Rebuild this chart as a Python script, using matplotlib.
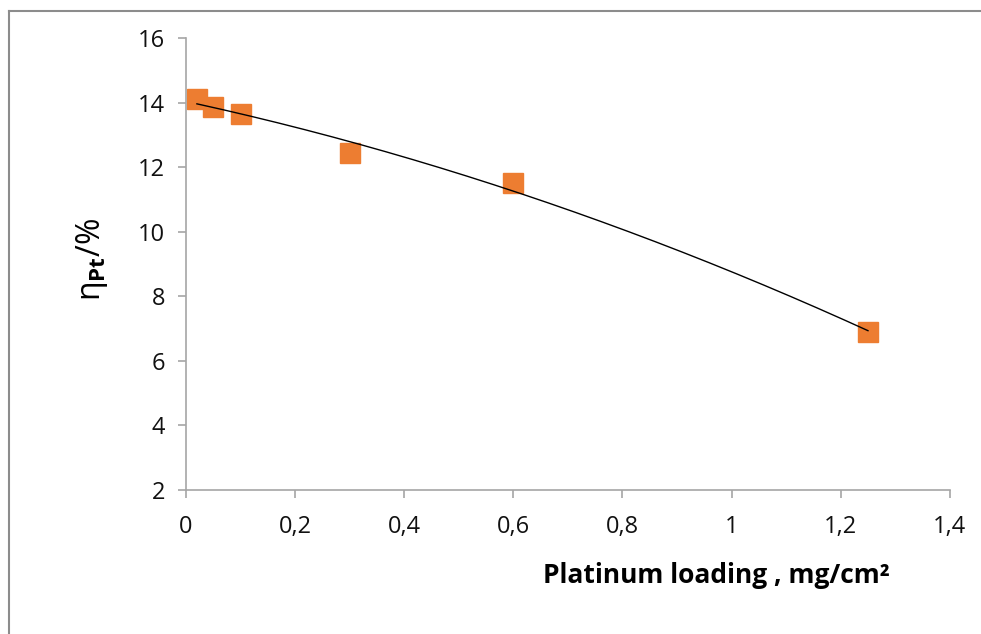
import numpy as np
import matplotlib.pyplot as plt
from matplotlib.lines import Line2D

plt.rcParams['font.family'] = ['Open Sans', 'DejaVu Sans']
plt.rcParams['mathtext.fontset'] = 'custom'
plt.rcParams['mathtext.rm'] = 'Open Sans'
plt.rcParams['mathtext.it'] = 'Open Sans'
plt.rcParams['mathtext.bf'] = 'Open Sans:bold'

# platinum loading (mg/cm2) vs efficiency (%)
loading = [0.02, 0.05, 0.1, 0.3, 0.6, 1.25]
eta = [14.1, 13.85, 13.65, 12.45, 11.5, 6.9]

xticks = [0, 0.2, 0.4, 0.6, 0.8, 1, 1.2, 1.4]
xticklabels = ["0", "0,2", "0,4", "0,6", "0,8", "1", "1,2", "1,4"]
yticks = [2, 4, 6, 8, 10, 12, 14, 16]

fig = plt.figure(figsize=(9.81, 6.34), dpi=100)
ax = fig.add_axes([0.1896, 0.2271, 0.7786, 0.7129])

# 2nd order polynomial trendline, like excel
coef = np.polyfit(loading, eta, 2)
xs = np.linspace(min(loading), max(loading), 200)
ax.plot(xs, np.polyval(coef, xs), color="black", lw=1, zorder=3)

ax.plot(loading, eta, "s", color="#ED7D31", markersize=14.5, zorder=2)

ax.set_xlim(0, 1.4)
ax.set_ylim(2, 16)
ax.set_xticks(xticks)
ax.set_xticklabels(xticklabels)
ax.set_yticks(yticks)

for s in ["top", "right"]:
    ax.spines[s].set_visible(False)
for s in ["left", "bottom"]:
    ax.spines[s].set_color("#a6a6a6")
    ax.spines[s].set_linewidth(1.2)
ax.tick_params(axis="both", direction="out", length=6, width=1.2, color="#a6a6a6",
               labelsize=17, labelcolor="#111111")
ax.tick_params(axis="y", pad=9)
ax.tick_params(axis="x", pad=12)

fig.text(0.73, 0.092, "Platinum loading , mg/cm²", fontsize=19, fontweight="bold",
         ha="center", va="center")
fig.text(0.094, 0.59, r"$\eta_{\mathbf{Pt}}$/%", fontsize=23, rotation=90,
         ha="center", va="center")

# chart frame
fig.add_artist(Line2D([9/981, 9/981], [0, 1 - 11/634], color="#8c8c8c", lw=1.5))
fig.add_artist(Line2D([9/981, 1], [1 - 11/634, 1 - 11/634], color="#8c8c8c", lw=1.5))

fig.savefig("out.png", dpi=100)
